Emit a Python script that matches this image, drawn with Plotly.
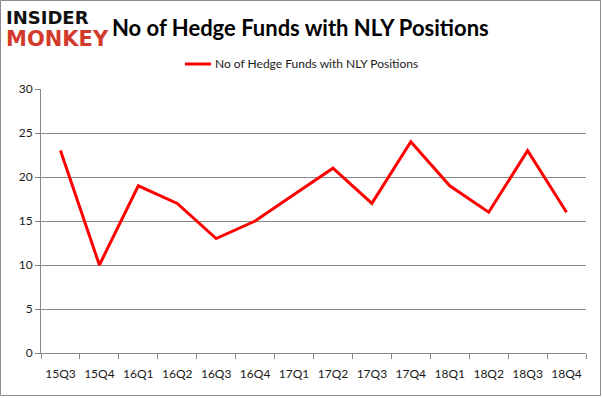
import plotly.graph_objects as go

quarters = ["15Q3", "15Q4", "16Q1", "16Q2", "16Q3", "16Q4", "17Q1", "17Q2",
            "17Q3", "17Q4", "18Q1", "18Q2", "18Q3", "18Q4"]
funds = [23, 10, 19, 17, 13, 15, 18, 21, 17, 24, 19, 16, 23, 16]
series_name = "No of Hedge Funds with NLY Positions"

W, H = 602, 398
L, R, T, B = 41, 16, 89, 45
pw, ph = W - L - R, H - T - B

def px(x):
    return (x - L) / pw

def py(y):
    return (H - B - y) / ph

fig = go.Figure()
fig.add_trace(go.Scatter(x=quarters, y=funds, mode="lines", name=series_name,
                         line=dict(color="#ff0000", width=3), showlegend=False))

fig.update_layout(
    width=W, height=H,
    margin=dict(l=L, r=R, t=T, b=B, autoexpand=False),
    paper_bgcolor="white", plot_bgcolor="white",
    font=dict(family="Lato, Open Sans, sans-serif", size=12, color="#1a1a1a"),
    showlegend=False,
    xaxis=dict(type="category", range=[-0.5, 13.5], showgrid=False,
               showline=True, linecolor="#888", linewidth=1,
               ticks="outside", tickson="boundaries", ticklen=5, tickcolor="#888",
               tickangle=0,
               tickfont=dict(size=12, color="#1a1a1a"), ticklabelstandoff=10),
    yaxis=dict(range=[0, 30], dtick=5, showgrid=True, gridcolor="#888", gridwidth=1,
               showline=True, linecolor="#888", linewidth=1, zeroline=False,
               ticks="outside", ticklen=5, tickcolor="#888",
               tickfont=dict(size=12, color="#1a1a1a")),
    shapes=[
        dict(type="rect", xref="paper", yref="paper",
             x0=px(0.5), x1=px(W - 1.5), y0=py(H - 2.5), y1=py(0.5),
             line=dict(color="#8c8c8c", width=1)),
        dict(type="line", xref="paper", yref="paper",
             x0=px(185), x1=px(211), y0=py(64), y1=py(64),
             line=dict(color="#ff0000", width=3)),
    ],
    annotations=[
        dict(text=series_name, xref="paper", yref="paper",
             x=px(213), y=py(63), xanchor="left", yanchor="middle", showarrow=False,
             font=dict(family="Lato, sans-serif", size=12, color="#1a1a1a")),
        dict(text="<b>No of Hedge Funds with NLY Positions</b>", xref="paper", yref="paper",
             x=px(110), y=py(27), xanchor="left", yanchor="middle", showarrow=False,
             font=dict(family="Lato, sans-serif", size=22, color="#000")),
        dict(text="<b>INSIDER</b>", xref="paper", yref="paper",
             x=px(4), y=py(17), xanchor="left", yanchor="middle", showarrow=False,
             font=dict(family="DejaVu Sans, sans-serif", size=18, color="#111")),
        dict(text="<b>MONKEY</b>", xref="paper", yref="paper",
             x=px(4), y=py(39), xanchor="left", yanchor="middle", showarrow=False,
             font=dict(family="DejaVu Sans, sans-serif", size=21, color="#d33a2c")),
    ],
)

fig.write_html("out.html", config={"displayModeBar": False},
               post_script="document.body.style.margin='0';document.body.style.padding='0';")
